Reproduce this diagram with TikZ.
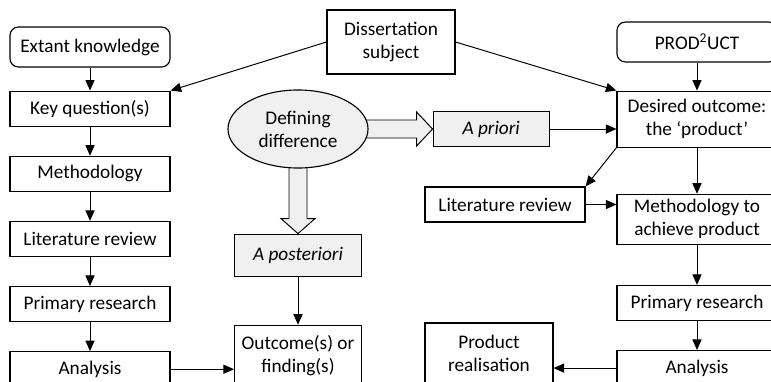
\documentclass[tikz,border=0pt]{standalone}
\usepackage{fontspec}
\setmainfont{Carlito}
\usetikzlibrary{arrows.meta, positioning, shapes.geometric, calc}
\pgfdeclarelayer{bg}
\pgfsetlayers{bg,main}

\begin{document}
\begin{tikzpicture}[
        x=0.025cm, y=-0.025cm,
        every node/.style={draw, line width=0.8pt, align=center, inner sep=0pt,
            font=\fontsize{13.7}{16.4}\selectfont},
        box/.style={minimum width=4cm, minimum height=0.875cm},
        startbox/.style={box, minimum height=1cm, rounded corners=6pt},
        greybox/.style={fill=black!6},
        arrow/.style={-{Triangle[length=7.5pt, width=6.5pt]}, line width=0.7pt},
        hollow/.style={draw, fill=black!6, line width=0.7pt, line join=miter}
    ]
    \useasboundingbox (0,0) rectangle (771,382);

    % Top box
    \node [minimum width=3.2cm, minimum height=1.6cm](subject) at (391,42) {Dissertation\\subject};

    % Left column
    \node [startbox](extant) at (90,47) {Extant knowledge};
    \node [box](keyq) [below=0.575cm of extant] {Key question(s)};
    \node [box](methodL) [below=0.725cm of keyq] {Methodology};
    \node [box](litL) [below=0.725cm of methodL] {Literature review};
    \node [box](primL) [below=0.725cm of litL] {Primary research};
    \node [box](anaL) [below=0.725cm of primL] {Analysis};

    % Middle column
    \node [ellipse, greybox, minimum width=3.5cm, minimum height=1.95cm](defdiff) at (298,129) {Defining\\difference};
    \node [greybox, minimum width=2.9cm, minimum height=0.875cm](apriori) [right=1.6cm of defdiff] {\textit{A priori}};
    \node [greybox, minimum width=3.175cm, minimum height=1.05cm](aposteriori) [below=1.625cm of defdiff] {\textit{A posteriori}};
    \node [minimum width=3.175cm, minimum height=1.5cm](outcome) [below=1.2cm of aposteriori] {Outcome(s) or\\finding(s)};
    \node [box](litR) at (505,204.5) {Literature review};
    \node [minimum width=3.2cm, minimum height=1.5cm](prodreal) at (489,353) {Product\\realisation};

    % Right column
    \node [startbox](prodct) at (697,42) {PROD\textsuperscript{2}UCT};
    \node [box, minimum height=1.4cm](desired) [below=0.7cm of prodct] {Desired outcome:\\the ‘product’};
    \node [box, minimum height=1.25cm](methodR) [below=1.15cm of desired] {Methodology to\\achieve product};
    \node [box](primR) [below=1cm of methodR] {Primary research};
    \node [box](anaR) [below=0.725cm of primR] {Analysis};

    % Hollow arrows out of the ellipse
    \begin{pgfonlayer}{bg}
    \draw[hollow] ($(defdiff.center)+(0,-9)$) -- ($(apriori.west)+(-16,-9)$) -- ++(0,-8)
        -- (apriori.west) -- ++(-16,17) -- ++(0,-8) -- ($(defdiff.center)+(0,9)$) -- cycle;
    \draw[hollow] ($(defdiff.center)+(-9,0)$) -- ($(aposteriori.north)+(-9,-15)$) -- ++(-8,0)
        -- (aposteriori.north) -- ++(17,-15) -- ++(-8,0) -- ($(defdiff.center)+(9,0)$) -- cycle;
    \end{pgfonlayer}

    % Arrows
    \draw[arrow] (subject.west) -- (keyq.north east);
    \draw[arrow] (subject.east) -- (desired.north west);
    \draw[arrow] (extant) -- (keyq);
    \draw[arrow] (keyq) -- (methodL);
    \draw[arrow] (methodL) -- (litL);
    \draw[arrow] (litL) -- (primL);
    \draw[arrow] (primL) -- (anaL);
    \draw[arrow] (anaL.east) -- (anaL.east -| outcome.west);
    \draw[arrow] (aposteriori) -- (outcome);
    \draw[arrow] (apriori.east) -- (apriori.east -| desired.west);
    \draw[arrow] (prodct) -- (desired);
    \draw[arrow] (desired) -- (methodR);
    \draw[arrow] (methodR) -- (primR);
    \draw[arrow] (primR) -- (anaR);
    \draw[arrow] (desired.south west) -- (litR.north east);
    \draw[arrow] (litR.east) -- (litR.east -| methodR.west);
    \draw[arrow] (anaR.west) -- (anaR.west -| prodreal.east);

\end{tikzpicture}
\end{document}
